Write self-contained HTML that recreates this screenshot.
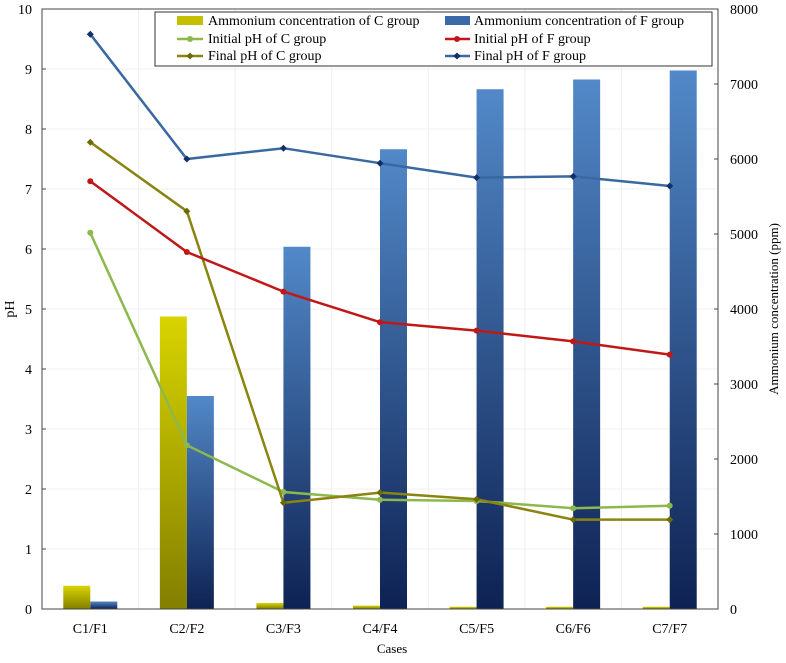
<!DOCTYPE html>
<html><head><meta charset="utf-8"><style>
body{margin:0;background:#fff}
svg{font-family:"Liberation Serif",serif;}
</style></head><body>
<svg id="chart" width="786" height="658" xmlns="http://www.w3.org/2000/svg">
<defs>
<linearGradient id="gc" x1="0" y1="0" x2="0" y2="1"><stop offset="0" stop-color="#d8d400"/><stop offset="1" stop-color="#837f00"/></linearGradient>
<linearGradient id="gf" x1="0" y1="0" x2="0" y2="1"><stop offset="0" stop-color="#5289c8"/><stop offset="1" stop-color="#0e2253"/></linearGradient>
</defs>
<g id="grid"></g><g id="bars"></g><g id="lines"></g><g id="axes"></g>
<g>
<rect x="155" y="12" width="557" height="54" fill="#fff" stroke="#333" stroke-width="1"/>
<rect x="177" y="16" width="26" height="9" fill="#c4c000"/><text x="208" y="25" font-size="14">Ammonium concentration of C group</text>
<line x1="177" y1="39" x2="203" y2="39" stroke="#8cb84c" stroke-width="2.5"/><circle cx="190" cy="39" r="3" fill="#8cb84c"/><text x="208" y="43" font-size="14">Initial pH of C group</text>
<line x1="177" y1="56" x2="203" y2="56" stroke="#8a8410" stroke-width="2.5"/><path d="M190 52.5 L193.5 56 L190 59.5 L186.5 56Z" fill="#6d6a05"/><text x="208" y="60" font-size="14">Final pH of C group</text>
<rect x="445" y="16" width="25" height="9" fill="#3a6aa8"/><text x="474" y="25" font-size="14">Ammonium concentration of F group</text>
<line x1="445" y1="39" x2="470" y2="39" stroke="#c01818" stroke-width="2.5"/><circle cx="457" cy="39" r="3" fill="#c01818"/><text x="474" y="43" font-size="14">Initial pH of F group</text>
<line x1="445" y1="56" x2="470" y2="56" stroke="#3a68a0" stroke-width="2.5"/><path d="M457 52.5 L460.5 56 L457 59.5 L453.5 56Z" fill="#123066"/><text x="474" y="60" font-size="14">Final pH of F group</text>
</g>
</svg>
<script>
const categories=["C1/F1","C2/F2","C3/F3","C4/F4","C5/F5","C6/F6","C7/F7"];
const ammoniumC=[310,3900,80,45,30,30,30];
const ammoniumF=[100,2840,4830,6130,6930,7060,7180];
const initialPhC=[6.27,2.73,1.95,1.82,1.80,1.68,1.72];
const initialPhF=[7.13,5.95,5.29,4.78,4.64,4.46,4.24];
const finalPhC=[7.78,6.63,1.77,1.94,1.83,1.49,1.49];
const finalPhF=[9.58,7.50,7.68,7.43,7.19,7.21,7.05];
const phTicks=[0,1,2,3,4,5,6,7,8,9,10];
const ammTicks=[0,1000,2000,3000,4000,5000,6000,7000,8000];
const L=42,R=718,T=9,B=609,NS="http://www.w3.org/2000/svg";
const bw=(R-L)/categories.length;
const xc=i=>L+bw*(i+0.5);
const yPh=v=>B-(v/10)*(B-T);
const yAm=v=>B-(v/8000)*(B-T);
function mk(tag,attrs,parent){const e=document.createElementNS(NS,tag);for(const k in attrs)e.setAttribute(k,attrs[k]);document.getElementById(parent).appendChild(e);return e;}
categories.forEach((c,i)=>{if(i>0){const g=mk('line',{x1:L+bw*i,x2:L+bw*i,y1:T,y2:B,stroke:'#eee'},'grid');}});
phTicks.forEach(t=>{const g=mk('line',{x1:L,x2:R,y1:yPh(t),y2:yPh(t),stroke:'#f0f0f0'},'grid');});
const w=27;
categories.forEach((c,i)=>{
 const a=mk('rect',{x:xc(i)-w,y:yAm(ammoniumC[i]),width:w,height:B-yAm(ammoniumC[i]),fill:'url(#gc)'},'bars');
 
 
 const b=mk('rect',{x:xc(i),y:yAm(ammoniumF[i]),width:w,height:B-yAm(ammoniumF[i]),fill:'url(#gf)'},'bars');
 
 
});
function series(vals,color,mcolor,shape,name){
 const p=mk('polyline',{points:vals.map((v,i)=>xc(i)+','+yPh(v)).join(' '),fill:'none',stroke:color,'stroke-width':2.5},'lines');
 
 
 vals.forEach((v,i)=>{const x=xc(i),y=yPh(v);let m;
  if(shape==='c')m=mk('circle',{cx:x,cy:y,r:3,fill:mcolor},'lines');
  else m=mk('path',{d:`M${x} ${y-3.5}L${x+3.5} ${y}L${x} ${y+3.5}L${x-3.5} ${y}Z`,fill:mcolor},'lines');
  
  });
}
series(initialPhC,'#8cb84c','#8cb84c','c','initial-ph-c');
series(finalPhC,'#8a8410','#6d6a05','d','final-ph-c');
series(initialPhF,'#c01818','#c01818','c','initial-ph-f');
series(finalPhF,'#3a68a0','#123066','d','final-ph-f');
const ax=mk('rect',{x:L,y:T,width:R-L,height:B-T,fill:'none',stroke:'#444','stroke-width':1},'axes');


phTicks.forEach(t=>{const tx=mk('text',{x:L-10,y:yPh(t)+5,'text-anchor':'end','font-size':14},'axes');tx.textContent=t;
 
 
 mk('line',{x1:L,x2:L+4,y1:yPh(t),y2:yPh(t),stroke:'#444'},'axes');});
ammTicks.forEach(t=>{const tx=mk('text',{x:R+12,y:yAm(t)+5,'font-size':14},'axes');tx.textContent=t;
 
 
 mk('line',{x1:R-4,x2:R,y1:yAm(t),y2:yAm(t),stroke:'#444'},'axes');});
categories.forEach((c,i)=>{const tx=mk('text',{x:xc(i),y:633,'text-anchor':'middle','font-size':14},'axes');tx.textContent=c;
 
 });
let t1=mk('text',{x:392,y:653,'text-anchor':'middle','font-size':13},'axes');t1.textContent='Cases';


let t2=mk('text',{x:0,y:0,'text-anchor':'middle','font-size':14,transform:'translate(14,309) rotate(-90)'},'axes');t2.textContent='pH';


let t3=mk('text',{x:0,y:0,'text-anchor':'middle','font-size':13,transform:'translate(778,309) rotate(-90)'},'axes');t3.textContent='Ammonium concentration (ppm)';


</script>
</body></html>
